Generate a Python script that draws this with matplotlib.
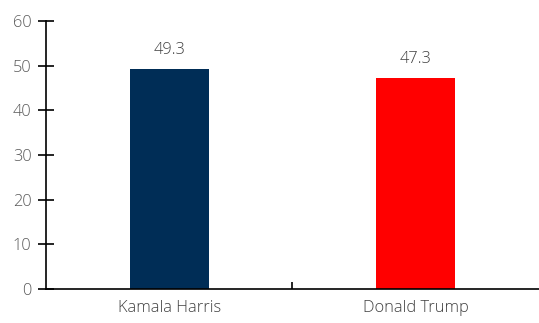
import matplotlib
matplotlib.use("Agg")
import matplotlib.pyplot as plt

categories = ["Kamala Harris", "Donald Trump"]
values = [49.3, 47.3]
colors = ["#002D56", "#FF0000"]
yticks = [0, 10, 20, 30, 40, 50, 60]

plt.rcParams['font.family'] = ['Open Sans', 'DejaVu Sans']
FS = 11.8

fig = plt.figure(figsize=(5.39, 3.23), dpi=100)
ax = fig.add_axes([0.0853, 0.105, 0.9147, 0.830])

x = list(range(len(categories)))
bars = ax.bar(x, values, width=0.32, color=colors)
for xi, v in zip(x, values):
    ax.annotate(f"{v}", (xi, v), xytext=(0, 8), textcoords="offset points",
                ha="center", va="bottom", fontsize=FS, color="#404040", fontweight="light")

ax.set_xlim(-0.5, 1.5)
ax.set_ylim(0, 60)
ax.set_yticks(yticks)
ax.set_yticklabels([str(t) for t in yticks], fontsize=FS, color="#595959", fontweight="light")
ax.tick_params(axis="y", direction="inout", length=11, width=1.2, pad=5)

ax.set_xticks([0.5])
ax.set_xticklabels([""])
ax.tick_params(axis="x", direction="in", length=5, width=1.2)
for xi, c in zip(x, categories):
    ax.text(xi, -0.04, c, transform=ax.get_xaxis_transform(), ha="center", va="top",
            fontsize=FS, color="#404040", fontweight="light")

for s in ["top", "right"]:
    ax.spines[s].set_visible(False)
ax.spines["left"].set_linewidth(1.2)
ax.spines["bottom"].set_linewidth(1.2)

fig.savefig("out.png", dpi=100)
